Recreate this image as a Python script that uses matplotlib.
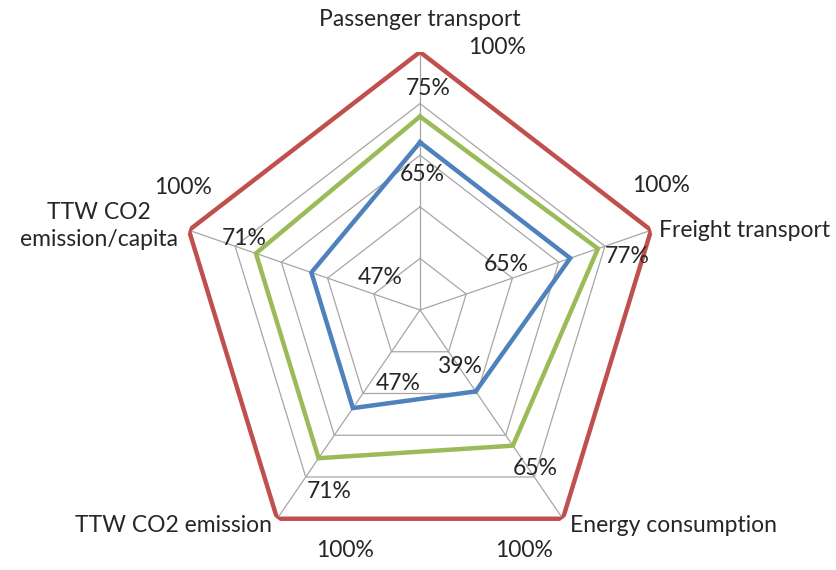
import numpy as np
import matplotlib
matplotlib.use("Agg")
import matplotlib.pyplot as plt

plt.rcParams['font.family'] = ['Lato', 'DejaVu Sans']

categories = ["Passenger transport", "Freight transport", "Energy consumption",
              "TTW CO2 emission", "TTW CO2\nemission/capita"]
reference = [1.00, 1.00, 1.00, 1.00, 1.00]
green_vals = [0.75, 0.77, 0.65, 0.71, 0.71]
blue_vals = [0.65, 0.65, 0.39, 0.47, 0.47]
grid_levels = [0.2, 0.4, 0.6, 0.8, 1.0]

RED = "#C0504D"
GREEN = "#9BBB59"
BLUE = "#4F81BD"
GRID = "#A6A6A6"
TXT = "#262626"

fig = plt.figure(figsize=(8.36, 5.70), dpi=100)
ax = fig.add_axes([177/836, 2/570, 486/836, 516/570], projection='polar')
ax.set_theta_zero_location('N')
ax.set_theta_direction(-1)
ax.set_aspect('auto')
ax.set_ylim(0, 1)
ax.axis('off')

n = len(categories)
theta = np.deg2rad(np.arange(n) * 360.0 / n)
theta_c = np.append(theta, theta[0])

# grid
for lv in grid_levels:
    ax.plot(theta_c, [lv] * (n + 1), color=GRID, lw=0.9, zorder=1)
for t in theta:
    ax.plot([t, t], [0, 1], color=GRID, lw=0.9, zorder=1)

def closed(v):
    return list(v) + [v[0]]

ax.plot(theta_c, closed(reference), color=RED, lw=3.2, zorder=3, solid_joinstyle='miter')
ax.plot(theta_c, closed(green_vals), color=GREEN, lw=3.2, zorder=3, solid_joinstyle='miter')
ax.plot(theta_c, closed(blue_vals), color=BLUE, lw=3.2, zorder=3, solid_joinstyle='miter')

fs = 16.5
# category labels
cat_offsets = [(0, 32), (8, 0), (7, -7), (-5, -7), (-11, 4)]
cat_ha = ['center', 'left', 'left', 'right', 'right']
for t, lab, off, ha in zip(theta, categories, cat_offsets, cat_ha):
    ax.annotate(lab, xy=(t, 1.0), xytext=off, textcoords='offset pixels',
                ha=ha, va='center', fontsize=fs, color=TXT,
                multialignment='center', linespacing=1.35, annotation_clip=False)

def pct(v):
    return f"{round(v * 100):d}%"

red_off = [(77, 5), (10, 45), (-39, -32), (68, -32), (-6, 43)]
green_off = [(8, 28), (29, -8), (22, -23), (11, -33), (-12, 15)]
blue_off = [(2, -32), (-64, -6), (-16, 25), (45, 25), (69, -5)]

for vals, offs in [(reference, red_off), (green_vals, green_off), (blue_vals, blue_off)]:
    for t, v, off in zip(theta, vals, offs):
        ax.annotate(pct(v), xy=(t, v), xytext=off, textcoords='offset pixels',
                    ha='center', va='center', fontsize=fs, color=TXT,
                    annotation_clip=False, zorder=5)

fig.savefig("out.png", dpi=100)
